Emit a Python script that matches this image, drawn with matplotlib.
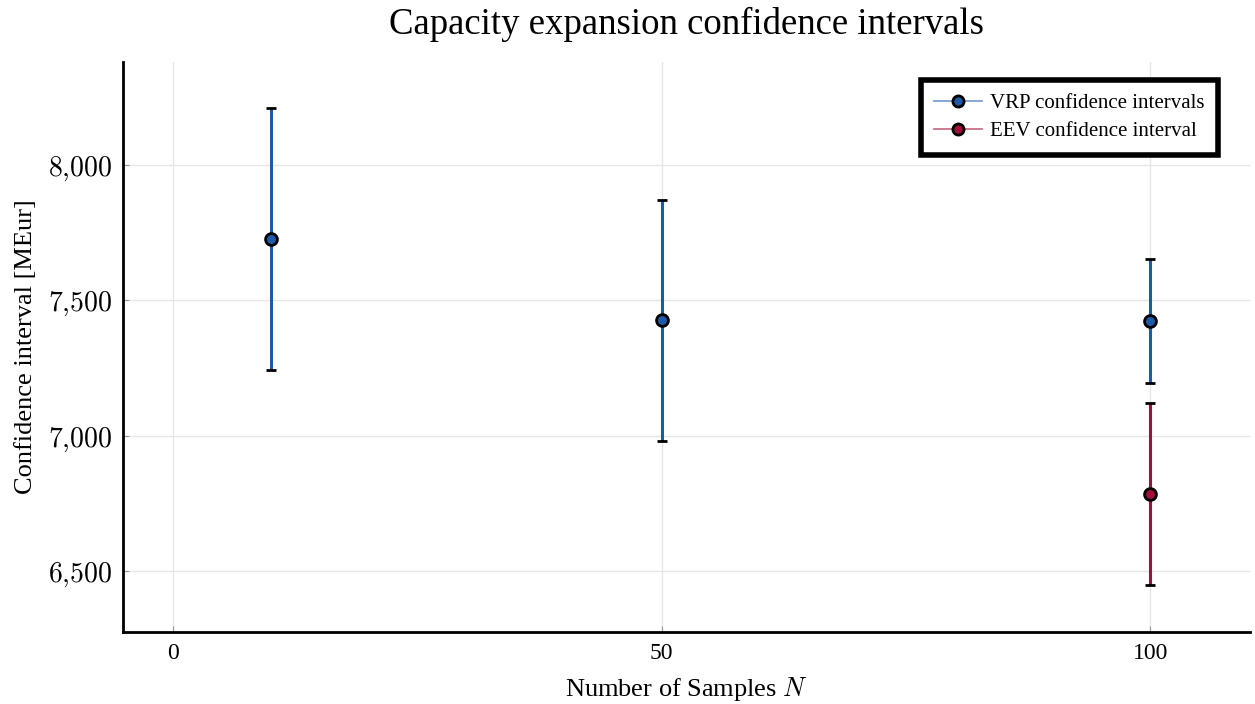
import numpy as np
import matplotlib.pyplot as plt

plt.rcParams['font.family'] = ['Liberation Serif', 'DejaVu Serif']
plt.rcParams['mathtext.fontset'] = 'cm'

# sample sizes and confidence intervals [MEur]
vrp_n = [10, 50, 100]
vrp_mean = [7727, 7426, 7424]
vrp_half = [483, 446, 230]

eev_n = [100]
eev_mean = [6784]
eev_half = [336]

x_ticks = [0, 50, 100]
y_ticks = [6500, 7000, 7500, 8000]

blue = '#1f5aa8'
red = '#a0103a'

fig = plt.figure(figsize=(12.55, 7.04), dpi=100)
ax = fig.add_axes([0.098, 0.102, 0.898, 0.81])

ax.errorbar(vrp_n, vrp_mean, yerr=vrp_half, fmt='none', ecolor=blue,
            elinewidth=2.2, capsize=0, zorder=2)
ax.errorbar(eev_n, eev_mean, yerr=eev_half, fmt='none', ecolor=red,
            elinewidth=2.2, capsize=0, zorder=2)

# black caps on top of the coloured bars
for n, m, h in zip(vrp_n + eev_n, vrp_mean + eev_mean, vrp_half + eev_half):
    ax.errorbar([n], [m], yerr=[h], fmt='none', ecolor='black',
                elinewidth=0, capsize=3.8, capthick=2, zorder=3)

ax.plot(vrp_n, vrp_mean, 'o', color=blue, mec='black', mew=2, ms=8.5, zorder=4)
ax.plot(eev_n, eev_mean, 'o', color=red, mec='black', mew=2, ms=8.5, zorder=4)

# legend handles: faint line with the marker
h1, = ax.plot([], [], '-', color='#7fa0d0', lw=1.3, marker='o', mfc=blue,
              mec='black', mew=2, ms=8)
h2, = ax.plot([], [], '-', color='#c87088', lw=1.3, marker='o', mfc=red,
              mec='black', mew=2, ms=8)
leg = ax.legend([h1, h2], ['VRP confidence intervals', 'EEV confidence interval'],
                loc='upper right', bbox_to_anchor=(0.972, 0.968), fontsize=15,
                fancybox=False, edgecolor='black', framealpha=1,
                handlelength=2.3, handletextpad=0.4, borderpad=0.65,
                labelspacing=0.4, borderaxespad=0)
leg.get_frame().set_linewidth(4)

ax.set_xlim(-5.1, 110.2)
ax.set_ylim(6275, 8380)
ax.set_xticks(x_ticks)
ax.set_xticklabels([str(v) for v in x_ticks])
ax.set_yticks(y_ticks)
ax.set_yticklabels([r'$%d{,}%03d$' % (v // 1000, v % 1000) for v in y_ticks])
ax.tick_params(axis='both', direction='in', length=4, width=0.8,
               color='#999999', pad=8)
ax.tick_params(axis='x', labelsize=17)
ax.tick_params(axis='y', labelsize=20)

ax.grid(True, color='#e6e6e6', lw=1)
ax.set_axisbelow(True)
for side in ['top', 'right']:
    ax.spines[side].set_visible(False)
for side in ['left', 'bottom']:
    ax.spines[side].set_linewidth(2)

ax.set_title('Capacity expansion confidence intervals', fontsize=26.5, pad=20)
ax.set_xlabel('Number of Samples $N$', fontsize=19, labelpad=8)
ax.set_ylabel('Confidence interval [MEur]', fontsize=19, labelpad=8)

fig.savefig('out.png', dpi=100)
